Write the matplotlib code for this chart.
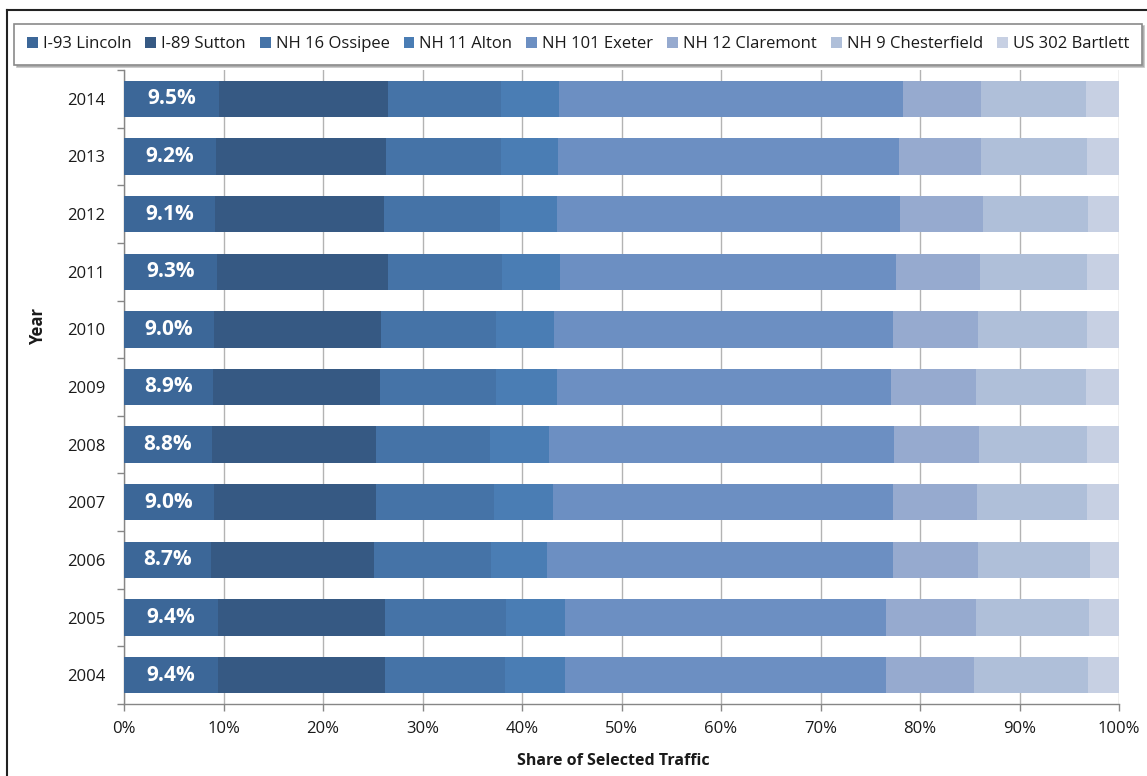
import matplotlib
matplotlib.use("Agg")
import matplotlib.pyplot as plt
from matplotlib.lines import Line2D
from matplotlib.ticker import FuncFormatter, FixedLocator

plt.rcParams['font.family'] = ['Open Sans', 'DejaVu Sans']

years = ["2004", "2005", "2006", "2007", "2008", "2009", "2010", "2011", "2012", "2013", "2014"]

stations = ["I-93 Lincoln", "I-89 Sutton", "NH 16 Ossipee", "NH 11 Alton",
            "NH 101 Exeter", "NH 12 Claremont", "NH 9 Chesterfield", "US 302 Bartlett"]

# shares (%) per station, ordered 2004 -> 2014
i93_lincoln      = [9.4, 9.4, 8.7, 9.0, 8.8, 8.9, 9.0, 9.3, 9.1, 9.2, 9.5]
i89_sutton       = [16.8, 16.8, 16.4, 16.3, 16.5, 16.8, 16.8, 17.2, 17.0, 17.1, 17.0]
nh16_ossipee     = [12.1, 12.2, 11.8, 11.9, 11.5, 11.7, 11.6, 11.5, 11.7, 11.6, 11.4]
nh11_alton       = [6.0, 5.9, 5.6, 5.9, 5.9, 6.1, 5.8, 5.8, 5.7, 5.7, 5.8]
nh101_exeter     = [32.3, 32.3, 34.8, 34.2, 34.7, 33.6, 34.1, 33.8, 34.5, 34.3, 34.6]
nh12_claremont   = [8.8, 9.0, 8.5, 8.4, 8.5, 8.5, 8.5, 8.4, 8.3, 8.2, 7.8]
nh9_chesterfield = [11.5, 11.4, 11.3, 11.1, 10.9, 11.1, 11.0, 10.8, 10.6, 10.7, 10.6]
us302_bartlett   = [3.1, 3.0, 2.9, 3.2, 3.2, 3.3, 3.2, 3.2, 3.1, 3.2, 3.3]

series = [i93_lincoln, i89_sutton, nh16_ossipee, nh11_alton,
          nh101_exeter, nh12_claremont, nh9_chesterfield, us302_bartlett]

colors = ["#3C6798", "#365983", "#4573A7", "#4A7DB4",
          "#6C8FC2", "#96AACF", "#AFBFD9", "#C7D0E3"]

W, H = 1147, 776
fig = plt.figure(figsize=(W / 100, H / 100), dpi=100)
ax = fig.add_axes([124 / W, (H - 704) / H, (1119 - 124) / W, (704 - 70) / H])

ypos = list(range(len(years)))
left = [0.0] * len(years)
handles = []
for name, vals, col in zip(stations, series, colors):
    bars = ax.barh(ypos, vals, left=left, height=0.63, color=col,
                   edgecolor='none', label=name, zorder=3)
    handles.append(bars)
    left = [l + v for l, v in zip(left, vals)]

# value labels on the first segment
for y, v in zip(ypos, i93_lincoln):
    ax.text(v / 2, y, f"{v:.1f}%", ha='center', va='center', color='white',
            fontsize=15, fontweight='bold', zorder=4)

ax.set_xlim(0, 100)
ax.set_ylim(-0.5, len(years) - 0.5)

ax.set_xticks(range(0, 101, 10))
ax.xaxis.set_major_formatter(FuncFormatter(lambda x, _: f"{int(x)}%"))
ax.set_yticks(ypos)
ax.set_yticklabels(years)
ax.yaxis.set_minor_locator(FixedLocator([i - 0.5 for i in range(len(years) + 1)]))

ax.tick_params(axis='x', which='major', length=5, width=1, color='#868686',
               labelsize=12, labelcolor='#1a1a1a', pad=7)
ax.tick_params(axis='y', which='major', length=0, labelsize=12,
               labelcolor='#1a1a1a', pad=13.5)
ax.tick_params(axis='y', which='minor', length=5, width=1, color='#868686')

ax.grid(axis='x', color='#B3B3B3', linewidth=1, zorder=0)
ax.set_axisbelow(True)
for side in ('top', 'right'):
    ax.spines[side].set_visible(False)
for side in ('left', 'bottom'):
    ax.spines[side].set_color('#868686')
    ax.spines[side].set_linewidth(1)

fig.text(38 / W, 1 - 326 / H, "Year", rotation=90, ha='center', va='center',
         fontsize=12, fontweight='bold', color='#1a1a1a')
fig.text(613 / W, 1 - 761 / H, "Share of Selected Traffic", ha='center',
         va='center', fontsize=11.5, fontweight='bold', color='#1a1a1a')

leg = fig.legend(handles=handles, labels=stations, loc='center',
                 bbox_to_anchor=(578 / W, 1 - 44 / H), ncol=8, fontsize=12,
                 frameon=True, fancybox=False, shadow={'color': '#9a9a9a', 'alpha': 0.6},
                 handlelength=0.65, handleheight=0.65, handletextpad=0.3,
                 columnspacing=0.84, borderpad=0.75, labelcolor='#1a1a1a')
leg.get_frame().set_edgecolor('#8a8a8a')
leg.get_frame().set_linewidth(1.2)

# outer frame lines
fig.add_artist(Line2D([7 / W, 7 / W], [0, 1 - 10 / H], transform=fig.transFigure,
                      color='#222222', linewidth=1.5))
fig.add_artist(Line2D([7 / W, 1], [1 - 10 / H, 1 - 10 / H], transform=fig.transFigure,
                      color='#222222', linewidth=1.5))

fig.savefig("out.png", dpi=100)
